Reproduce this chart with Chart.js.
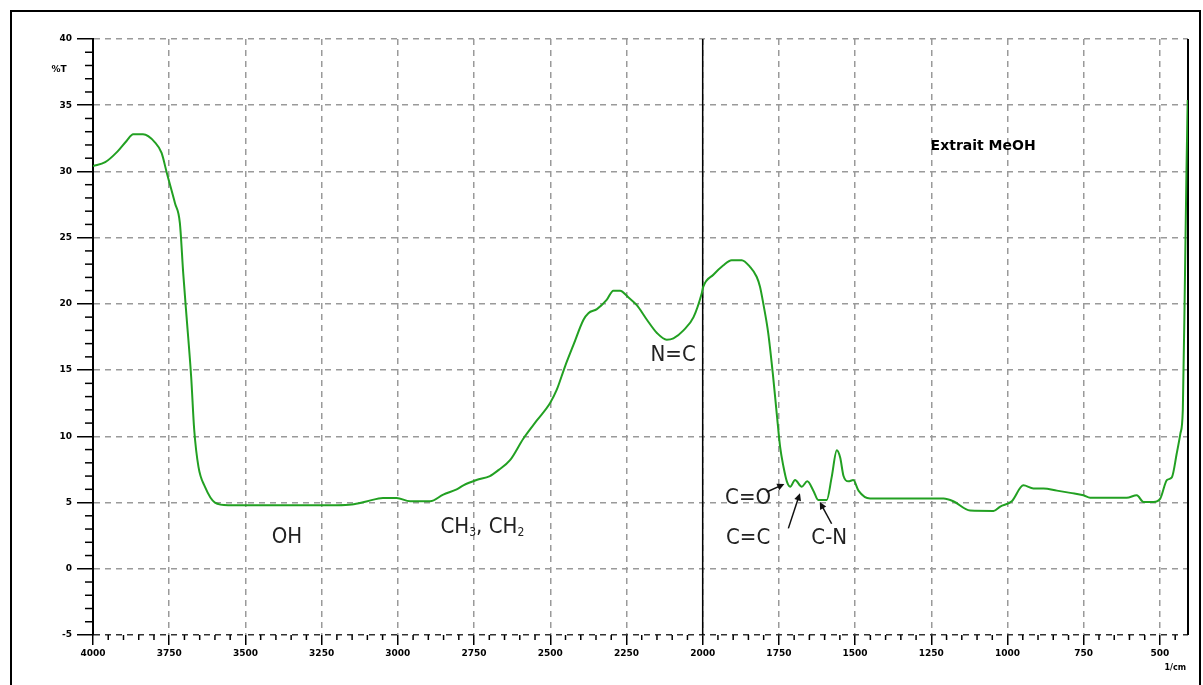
<!DOCTYPE html>
<html>
<head>
<meta charset="utf-8">
<script src="https://cdn.jsdelivr.net/npm/chart.js@4.4.0/dist/chart.umd.min.js"></script>
<style>
    html, body { margin: 0; padding: 0; background: #fff; }
    #wrap { width: 1203px; height: 685px; position: relative; }
</style>
</head>
<body>
<div id="wrap"><canvas id="canvas"></canvas></div>
<script>
// IR spectrum, Extrait MeOH (wavenumber in 1/cm, transmittance in %T)
var wavenumbers = [
    4000, 3960, 3920, 3890, 3868, 3836, 3797, 3775, 3758, 3731, 3715, 3704, 3693, 3678, 3668, 3654,
    3633, 3600, 3557, 3450, 3300, 3200, 3151, 3100, 3049, 3004, 2960, 2894, 2851, 2807, 2785, 2742,
    2698, 2670, 2632, 2588, 2544, 2501, 2479, 2452, 2424, 2391, 2375, 2347, 2315, 2293, 2271, 2244,
    2216, 2183, 2150, 2118, 2096, 2063, 2030, 2003, 1998, 1965, 1933, 1905, 1872, 1845, 1823, 1812,
    1801, 1785, 1770, 1757, 1746, 1735, 1724, 1713, 1697, 1675, 1657, 1637, 1621, 1593, 1577, 1560,
    1549, 1538, 1522, 1506, 1489, 1451, 1350, 1210, 1178, 1123, 1046, 1024, 986, 948, 915, 882,
    838, 794, 751, 729, 609, 576, 554, 521, 499, 477, 461, 445, 433, 425, 418, 413, 409
];
var transmittance = [
    30.4, 30.7, 31.5, 32.3, 32.8, 32.8, 32.2, 31.4, 29.9, 27.6, 26.1, 22.3, 19.0, 14.5, 10.5, 7.7,
    6.2, 5.0, 4.8, 4.8, 4.8, 4.8, 4.85, 5.1, 5.35, 5.35, 5.1, 5.1, 5.6, 6.0, 6.3, 6.7,
    7.0, 7.45, 8.2, 9.84, 11.2, 12.5, 13.5, 15.25, 16.9, 18.8, 19.3, 19.6, 20.3, 21.0, 21.0, 20.5,
    19.9, 18.8, 17.8, 17.3, 17.4, 18.0, 19.0, 20.8, 21.3, 22.2, 22.9, 23.3, 23.3, 22.8, 22.05, 21.3,
    20.0, 17.8, 14.75, 11.7, 9.2, 7.7, 6.6, 6.2, 6.7, 6.2, 6.6, 5.9, 5.2, 5.2, 6.9, 8.95,
    8.4, 7.0, 6.6, 6.7, 5.9, 5.3, 5.3, 5.3, 5.1, 4.4, 4.37, 4.7, 5.1, 6.3, 6.07, 6.07,
    5.9, 5.73, 5.55, 5.36, 5.36, 5.55, 5.05, 5.05, 5.3, 6.7, 6.9, 8.7, 10.2, 12, 22, 30, 35.4
];

// band assignments (placed in data units)
var bandText = ['OH', 'N=C', 'C=O', 'C=C', 'C-N'];
var bandX    = [3364, 2097, 1851, 1851, 1585];
var bandY    = [2.4, 16.1, 5.3, 2.3, 2.3];

// arrows: tail -> tip, in data units
var arrowFromX = [1790, 1719, 1577];
var arrowFromY = [5.8, 3.05, 3.4];
var arrowToX   = [1732, 1681, 1616];
var arrowToY   = [6.4, 5.7, 5.05];

var tickFont = {family: '"DejaVu Sans", sans-serif', size: 9, weight: 'bold'};
var noteFont = '"Liberation Sans Narrow", "DejaVu Sans Condensed", sans-serif';

function strokeLine(ctx, x1, y1, x2, y2) {
    ctx.beginPath();
    ctx.moveTo(x1, y1);
    ctx.lineTo(x2, y2);
    ctx.stroke();
}

function drawArrow(ctx, x1, y1, x2, y2) {
    var ang = Math.atan2(y2 - y1, x2 - x1), head = 8;
    strokeLine(ctx, x1, y1, x2 - Math.cos(ang) * 4, y2 - Math.sin(ang) * 4);
    ctx.beginPath();
    ctx.moveTo(x2, y2);
    ctx.lineTo(x2 - head * Math.cos(ang - 0.45), y2 - head * Math.sin(ang - 0.45));
    ctx.lineTo(x2 - head * Math.cos(ang + 0.45), y2 - head * Math.sin(ang + 0.45));
    ctx.closePath();
    ctx.fill();
}

var frame = {
    id: 'frame',
    beforeDatasetsDraw: function (chart) {
        var ctx = chart.ctx, xs = chart.scales.x, ys = chart.scales.y, a = chart.chartArea;
        ctx.save();
        ctx.strokeStyle = '#000';
        ctx.lineWidth = 1.5;
        // minor ticks
        for (var v = -5; v <= 40; v++) {
            if (v % 5 === 0) continue;
            var py = ys.getPixelForValue(v);
            strokeLine(ctx, a.left - 8, py, a.left, py);
        }
        for (var w = 3950; w > xs.min; w -= 50) {
            if (w % 250 === 0) continue;
            var px = xs.getPixelForValue(w);
            strokeLine(ctx, px, a.bottom, px, a.bottom + 5);
        }
        // split line at 2000 1/cm
        var p2000 = xs.getPixelForValue(2000);
        strokeLine(ctx, p2000, a.top, p2000, a.bottom);
        // right border of plot
        ctx.lineWidth = 2;
        strokeLine(ctx, a.right, a.top, a.right, a.bottom);
        // outer frame
        ctx.lineWidth = 2;
        ctx.strokeRect(11, 11, 1189, 700);
        ctx.restore();
    },
    afterDraw: function (chart) {
        var ctx = chart.ctx, xs = chart.scales.x, ys = chart.scales.y, a = chart.chartArea;
        ctx.save();
        ctx.fillStyle = '#000';
        ctx.textAlign = 'center';
        ctx.textBaseline = 'middle';

        // axis captions
        ctx.font = 'bold 9px "DejaVu Sans", sans-serif';
        ctx.fillText('%T', a.left - 34, ys.getPixelForValue(37.7));
        ctx.font = 'bold 8px "DejaVu Sans", sans-serif';
        ctx.fillText('1/cm', xs.getPixelForValue(450), a.bottom + 33);

        ctx.font = 'bold 14px "DejaVu Sans", sans-serif';
        ctx.fillText('Extrait MeOH', xs.getPixelForValue(1080), ys.getPixelForValue(31.9));

        // band labels
        ctx.fillStyle = '#222';
        ctx.font = '22px ' + noteFont;
        for (var i = 0; i < bandText.length; i++) {
            ctx.fillText(bandText[i], xs.getPixelForValue(bandX[i]), ys.getPixelForValue(bandY[i]));
        }

        // CH3, CH2 with subscripts
        var parts = [['CH', 0], ['3', 1], [', CH', 0], ['2', 1]];
        var tx = xs.getPixelForValue(2860), ty = ys.getPixelForValue(3.1);
        ctx.textAlign = 'left';
        parts.forEach(function (p) {
            ctx.font = (p[1] ? '12px ' : '22px ') + noteFont;
            ctx.fillText(p[0], tx, ty + (p[1] ? 5 : 0));
            tx += ctx.measureText(p[0]).width;
        });

        // arrows
        ctx.strokeStyle = '#111';
        ctx.fillStyle = '#111';
        ctx.lineWidth = 1.5;
        for (var k = 0; k < arrowFromX.length; k++) {
            drawArrow(ctx,
                xs.getPixelForValue(arrowFromX[k]), ys.getPixelForValue(arrowFromY[k]),
                xs.getPixelForValue(arrowToX[k]), ys.getPixelForValue(arrowToY[k]));
        }
        ctx.restore();
    }
};

var points = wavenumbers.map(function (w, i) {
    return {x: w, y: transmittance[i]};
});

new Chart(document.getElementById('canvas').getContext('2d'), {
    type: 'line',
    data: {
        datasets: [{
            label: 'Extrait MeOH',
            data: points,
            borderColor: '#22a022',
            borderWidth: 2,
            pointRadius: 0,
            cubicInterpolationMode: 'monotone',
            fill: false
        }]
    },
    options: {
        responsive: true,
        maintainAspectRatio: false,
        animation: false,
        layout: {
            padding: {top: 39, right: 15, left: 0, bottom: 0}
        },
        plugins: {
            legend: {display: false},
            tooltip: {enabled: false}
        },
        scales: {
            x: {
                type: 'linear',
                reverse: true,
                min: 408,
                max: 4000,
                afterFit: function (scale) { scale.height = 50; },
                ticks: {
                    stepSize: 250,
                    includeBounds: false,
                    maxRotation: 0,
                    autoSkip: false,
                    padding: 3,
                    color: '#000',
                    font: tickFont,
                    callback: function (v) { return String(v); }
                },
                grid: {
                    color: '#9a9a9a',
                    lineWidth: 1.5,
                    tickColor: '#000',
                    tickLength: 10,
                    tickWidth: 1.5
                },
                border: {display: false, dash: [6, 5]}
            },
            y: {
                min: -5,
                max: 40,
                afterFit: function (scale) { scale.width = 93; },
                ticks: {
                    stepSize: 5,
                    padding: 5,
                    color: '#000',
                    font: tickFont
                },
                grid: {
                    color: function (c) { return c.tick && c.tick.value === -5 ? '#333' : '#9a9a9a'; },
                    lineWidth: 1.5,
                    tickColor: '#000',
                    tickLength: 16,
                    tickWidth: 1.5
                },
                border: {display: true, color: '#000', width: 2, dash: [6, 5]}
            }
        }
    },
    plugins: [frame]
});
</script>
</body>
</html>
